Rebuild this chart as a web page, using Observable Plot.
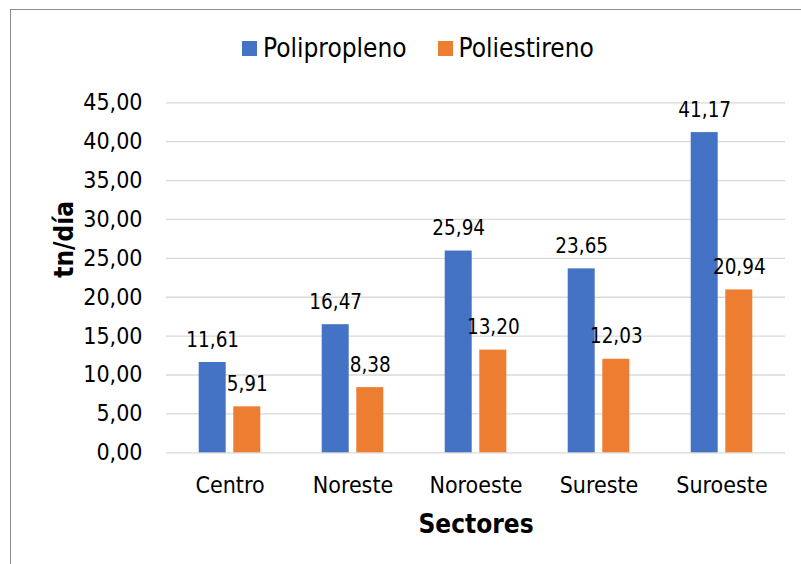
<!DOCTYPE html>
<html>
<head>
<meta charset="utf-8">
<script src="https://cdn.jsdelivr.net/npm/d3@7"></script>
<script src="https://cdn.jsdelivr.net/npm/@observablehq/plot@0.6"></script>
<style>
  html, body { margin: 0; padding: 0; background: #fff; }
  #wrap { position: relative; width: 801px; height: 564px; overflow: hidden; background: #fff;
          font-family: "DejaVu Sans Condensed", "DejaVu Sans", sans-serif; }
  #frame { position: absolute; left: 10px; top: 9px; width: 1000px; height: 1000px;
           border-left: 1px solid #8c8c8c; border-top: 1px solid #8c8c8c; }
  #chart { position: absolute; left: 0; top: 0; }
  #legend { position: absolute; left: 242px; top: 33px; display: flex; align-items: center;
            font-size: 26px; color: #000; white-space: nowrap; }
  #legend .item { display: flex; align-items: center; margin-right: 31px; }
  #legend .sw { width: 15px; height: 15px; margin-right: 6px; }
</style>
</head>
<body>
<div id="wrap">
  <div id="frame"></div>
  <div id="chart"></div>
  <div id="legend"></div>
</div>
<script>
const categories = ["Centro", "Noreste", "Noroeste", "Sureste", "Suroeste"];
const seriesNames = ["Polipropleno", "Poliestireno"];
const polipropleno = [11.61, 16.47, 25.94, 23.65, 41.17];
const poliestireno = [5.91, 8.38, 13.20, 12.03, 20.94];
const yTicks = [0, 5, 10, 15, 20, 25, 30, 35, 40, 45];
const seriesColors = ["#4472C4", "#ED7D31"];
const xTitle = "Sectores";
const yTitle = "tn/día";

const fmt = v => d3.format(".2f")(v).replace(".", ",");
const font = "'DejaVu Sans Condensed', 'DejaVu Sans', sans-serif";

const dataA = categories.map((c, i) => ({cat: c, value: polipropleno[i]}));
const dataB = categories.map((c, i) => ({cat: c, value: poliestireno[i]}));
const off = 17.3;

const chart = Plot.plot({
  width: 801,
  height: 564,
  marginLeft: 166,
  marginRight: 16,
  marginTop: 102.3,
  marginBottom: 111.7,
  style: {fontFamily: font, fontSize: "23px", color: "#000", background: "transparent", overflow: "visible"},
  x: {type: "band", domain: categories, paddingInner: 0.778, paddingOuter: 0.389,
      tickSize: 0, tickPadding: 24, label: null},
  y: {domain: [0, 45], ticks: yTicks, tickFormat: fmt, tickSize: 0, tickPadding: 24, label: null},
  marks: [
    Plot.ruleY(yTicks, {stroke: "#d9d9d9", strokeWidth: 1.3}),
    Plot.barY(dataA, {x: "cat", y: "value", fill: seriesColors[0], dx: -off}),
    Plot.barY(dataB, {x: "cat", y: "value", fill: seriesColors[1], dx: off}),
    Plot.text(dataA, {x: "cat", y: "value", text: d => fmt(d.value), dx: -off, dy: -16,
      lineAnchor: "bottom", fontSize: 20.5, fill: "#000"}),
    Plot.text(dataB, {x: "cat", y: "value", text: d => fmt(d.value), dx: off, dy: -16,
      lineAnchor: "bottom", fontSize: 20.5, fill: "#000"}),
    Plot.text([xTitle], {frameAnchor: "bottom", dy: 80, lineAnchor: "bottom",
      fontSize: 26, fontWeight: "bold", fill: "#000"}),
    Plot.text([yTitle], {frameAnchor: "left", dx: -94, rotate: -90, lineAnchor: "bottom",
      fontSize: 26, fontWeight: "bold", fill: "#000"})
  ]
});
document.getElementById("chart").appendChild(chart);

const legend = document.getElementById("legend");
seriesNames.forEach((name, i) => {
  const item = document.createElement("div");
  item.className = "item";
  const sw = document.createElement("div");
  sw.className = "sw";
  sw.style.background = seriesColors[i];
  const label = document.createElement("span");
  label.textContent = name;
  item.appendChild(sw);
  item.appendChild(label);
  legend.appendChild(item);
});
</script>
</body>
</html>
